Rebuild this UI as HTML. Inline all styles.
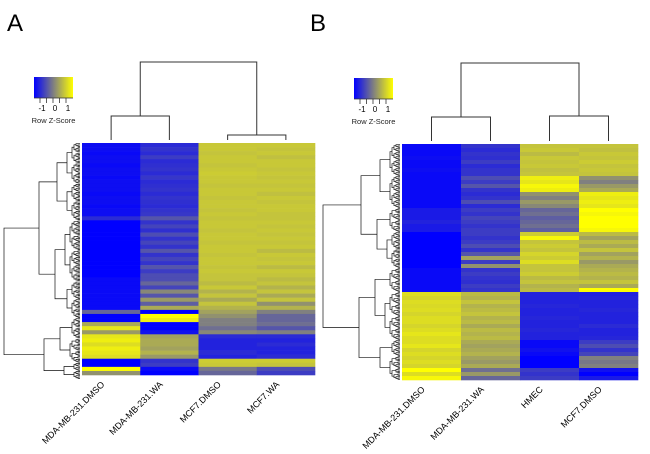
<!DOCTYPE html>
<html><head><meta charset="utf-8"><style>
html,body{margin:0;padding:0;background:#fff;}
svg{display:block;font-family:"Liberation Sans",sans-serif;}
</style></head><body>
<svg id="fig" width="650" height="454" viewBox="0 0 650 454">
<text x="7" y="31" font-size="24">A</text>
<text x="310" y="31" font-size="24">B</text>
<g id="ga"></g>
<g id="gb"></g>
</svg>
<script>
const colsA = ["MDA-MB-231.DMSO","MDA-MB-231.WA","MCF7.DMSO","MCF7.WA"];
const colsB = ["MDA-MB-231.DMSO","MDA-MB-231.WA","HMEC","MCF7.DMSO"];
const legendTicks = ["-1","0","1"];
const rowsA = [
[-1.35,-1.0,0.85,0.85],[-1.35,-0.9,0.85,0.8],[-1.4,-1.0,0.8,0.85],[-1.35,-0.8,0.85,0.75],
[-1.35,-1.0,0.85,0.85],[-1.4,-0.95,0.8,0.85],[-1.35,-0.9,0.85,0.8],[-1.35,-1.0,0.9,0.85],
[-1.4,-0.85,0.85,0.8],[-1.35,-1.0,0.85,0.85],[-1.35,-0.95,0.8,0.8],[-1.35,-0.9,0.85,0.85],
[-1.4,-1.0,0.85,0.75],[-1.35,-0.9,0.8,0.85],[-1.35,-0.95,0.85,0.8],[-1.4,-1.0,0.85,0.85],
[-1.35,-0.9,0.8,0.85],[-1.35,-0.85,0.85,0.8],[-1.0,-0.5,0.8,0.8],
[-1.5,-0.9,0.85,0.85],[-1.5,-0.7,0.85,0.8],[-1.5,-0.95,0.8,0.85],[-1.5,-0.6,0.85,0.8],
[-1.5,-0.9,0.85,0.85],[-1.5,-0.7,0.8,0.8],[-1.5,-0.9,0.85,0.85],[-1.5,-0.5,0.85,0.7],
[-1.5,-0.9,0.8,0.85],[-1.5,-0.7,0.85,0.8],[-1.5,-0.9,0.85,0.85],[-1.5,-0.5,0.8,0.7],
[-1.5,-0.8,0.85,0.85],[-1.5,-0.6,0.8,0.8],
[-1.4,-0.6,0.8,0.7],[-1.4,-0.3,0.7,0.8],[-1.4,-0.7,0.85,0.6],[-1.4,0.1,0.6,0.8],
[-1.4,-0.5,0.8,0.5],[-1.4,0.3,0.5,0.8],[-1.4,-0.4,0.8,0.2],[-1.4,0.5,0.6,0.6],[-0.3,-1.5,0.4,0.0],
[-1.5,1.5,0.2,-0.3],[-1.5,1.3,0.0,-0.3],[0.5,-1.5,0.0,-0.2],[1.2,-1.5,-0.2,-0.5],[0.3,-1.3,0.1,0.0],
[1.2,0.4,-1.0,-1.0],[1.3,0.5,-1.1,-1.1],[1.1,0.5,-1.1,-1.0],[1.3,0.4,-1.1,-1.1],[1.2,0.6,-1.0,-1.1],[1.1,0.3,-1.1,-1.0],
[-1.5,-0.9,0.9,0.9],[-1.5,-0.8,0.85,0.8],
[1.5,-1.4,-0.1,-0.6],[0.2,-1.5,-0.3,-0.8]
];
const rowsB = [
[-1.4,-0.9,0.8,0.8],[-1.4,-1.0,0.85,0.75],[-1.4,-0.9,0.7,0.85],[-1.35,-0.95,0.85,0.8],
[-1.4,-0.8,0.8,0.9],[-1.4,-1.0,0.85,0.8],[-1.35,-0.9,0.75,0.85],[-1.4,-0.9,0.8,0.8],
[-1.4,-0.6,1.3,0.2],[-1.4,-0.8,1.2,0.0],[-1.4,-0.5,1.4,0.3],[-1.4,-0.9,1.3,0.5],
[-1.4,-1.0,0.2,1.3],[-1.4,-0.9,0.0,1.2],[-1.4,-0.6,0.3,1.3],[-1.4,-1.0,0.1,1.2],
[-1.2,-0.8,-0.3,1.5],[-1.2,-0.9,-0.2,1.4],[-1.2,-0.7,-0.4,1.5],[-1.1,-0.8,-0.3,1.5],[-1.2,-0.9,-0.2,1.5],[-1.2,-0.8,-0.4,1.4],
[-1.5,-0.8,0.9,0.7],[-1.5,-0.9,1.4,0.4],[-1.5,-0.8,0.8,0.7],[-1.5,-0.6,0.9,0.5],[-1.5,-0.9,0.8,0.8],
[-1.5,-0.5,1.0,0.4],[-1.5,0.4,0.9,0.6],[-1.5,-0.8,1.1,0.3],[-1.5,0.2,0.8,0.5],
[-1.4,-0.9,0.8,0.6],[-1.4,-0.8,0.9,0.7],[-1.4,-0.9,0.7,0.6],[-1.4,-0.95,0.8,0.8],[-1.4,-0.8,0.6,0.5],[-1.4,-0.9,0.7,1.5],
[1.1,0.7,-1.1,-1.1],[1.0,0.6,-1.1,-1.05],[1.1,0.8,-1.1,-1.1],[1.05,0.6,-1.05,-1.1],[1.1,0.7,-1.1,-1.05],[1.0,0.8,-1.1,-1.1],
[1.1,0.6,-1.05,-1.1],[1.1,0.7,-1.1,-1.1],[1.0,0.5,-1.1,-1.0],[1.1,0.7,-1.05,-1.1],[1.2,0.6,-1.1,-1.1],[1.1,0.7,-1.1,-1.05],
[1.1,0.5,-1.4,-0.8],[1.2,0.4,-1.4,-0.6],[1.0,0.5,-1.3,-0.9],[1.1,0.6,-1.4,-0.7],
[1.0,0.4,-1.5,0.0],[1.1,0.3,-1.5,-0.1],[1.0,0.5,-1.5,0.0],
[1.5,-0.2,-0.8,-1.3],[1.1,0.3,-0.9,-1.5],[1.4,-0.3,-0.8,-1.2]
];
const NS="http://www.w3.org/2000/svg";
function mk(parent,tag,attrs){const e=document.createElementNS(NS,tag);for(const k in attrs)e.setAttribute(k,attrs[k]);parent.appendChild(e);return e;}
function zColor(z){z=Math.max(-1.5,Math.min(1.5,z));const t=(z+1.5)/3;let r,g,b;
 if(t<0.5){const f=t/0.5;r=128*f;g=128*f;b=255-127*f;}else{const f=(t-0.5)/0.5;r=128+127*f;g=r;b=128-128*f;}
 return `rgb(${Math.round(r)},${Math.round(g)},${Math.round(b)})`;}
function panel(g,cols,rows,L,T,R,B,lx,ly,colTree,segs,rootX){
 const n=rows.length,cw=(R-L)/cols.length,rh=(B-T)/n;
 const xOf=j=>L+j*cw, yOf=i=>T+i*rh;
 rows.forEach((r,i)=>{r.forEach((v,j)=>{
   const c=mk(g,'rect',{x:xOf(j),y:yOf(i),width:cw+0.3,height:rh+0.3,fill:zColor(v)});
   
   
 });});
 cols.forEach((c,j)=>{const cx=xOf(j)+cw/2-6;
  const t=mk(g,'text',{x:cx,y:B+10,'font-size':9,'text-anchor':'end',transform:`rotate(-45 ${cx} ${B+10})`});
  t.textContent=c;
  
  });
 const cc=j=>xOf(j)+cw/2;
 const [topY,lY,rY]=colTree;
 const m1=(cc(0)+cc(1))/2,m2=(cc(2)+cc(3))/2;
 const d=`M${cc(0)},${T-3}V${lY}H${cc(1)}V${T-3}M${cc(2)},${T-3}V${rY}H${cc(3)}V${T-3}M${m1},${lY}V${topY}H${m2}V${rY}`;
 const cd=mk(g,'path',{d,stroke:'#333','stroke-width':1,fill:'none'});
 
 
 // row dendrogram: dense leaf fan (3 leaves per row) then cluster joins
 let p='';const sub=3,sh=rh/sub;
 function tree(a,b){
   if(b-a<=1){return [T+(a+0.5)*sh,L-2];}
   const m=Math.floor((a+b)/2);const l=tree(a,m),r=tree(m,b);
   const nx=Math.min(l[1],r[1])-((b-a)>24?5:2);
   p+=`M${l[1]},${l[0]}H${nx}V${r[0]}H${r[1]}`;return [(l[0]+r[0])/2,nx];}
 const nodes=segs.map(s=>tree(s[0]*sub,s[1]*sub));
 function join(ns){let cur=ns;let step=0;
   while(cur.length>1){const nxt=[];
     for(let k=0;k<cur.length;k+=2){
       if(k+1>=cur.length){nxt.push(cur[k]);continue;}
       const a=cur[k],b=cur[k+1];const nx=Math.max(rootX+8,Math.min(a[1],b[1])-10-step*6);
       p+=`M${a[1]},${a[0]}H${nx}V${b[0]}H${b[1]}`;nxt.push([(a[0]+b[0])/2,nx]);}
     cur=nxt;step++;
     if(cur.length===2){const a=cur[0],b=cur[1];p+=`M${a[1]},${a[0]}H${rootX}V${b[0]}H${b[1]}`;break;}}
 }
 join(nodes);
 const rd=mk(g,'path',{d:p,stroke:'#111','stroke-width':0.7,fill:'none'});
 
 
 const gid='grad'+lx;
 const defs=mk(g,'defs',{});const lg=mk(defs,'linearGradient',{id:gid});
 mk(lg,'stop',{offset:'0','stop-color':'#0000ff'});mk(lg,'stop',{offset:'0.5','stop-color':'#808080'});mk(lg,'stop',{offset:'1','stop-color':'#ffff00'});
 const kr=mk(g,'rect',{x:lx,y:ly,width:39,height:21,fill:`url(#${gid})`});
 
 
 for(let k=0;k<5;k++)mk(g,'line',{x1:lx+6+k*6.5,x2:lx+6+k*6.5,y1:ly+21,y2:ly+26,stroke:'#333','stroke-width':0.8});
 mk(g,'line',{x1:lx,x2:lx+39,y1:ly+21,y2:ly+21,stroke:'#333','stroke-width':0.8});
 legendTicks.forEach((t,k)=>{const tx=mk(g,'text',{x:lx+8+k*13,y:ly+34,'font-size':8,'text-anchor':'middle'});tx.textContent=t;
  
  });
 const tt=mk(g,'text',{x:lx+19.5,y:ly+46,'font-size':7.5,'text-anchor':'middle',fill:'#222'});tt.textContent='Row Z-Score';
 
 
}
const ga=document.getElementById('ga'),gb=document.getElementById('gb');
panel(ga,colsA,rowsA,82,143,315,375,34,77,[62,116,135],[[0,10],[10,19],[19,34],[34,43],[43,48],[48,54],[54,56],[56,58]],4);
panel(gb,colsB,rowsB,402,144,638,380,354,78,[63,117,116],[[0,8],[8,16],[16,22],[22,31],[31,37],[37,49],[49,53],[53,59]],323);
</script>
</body></html>
